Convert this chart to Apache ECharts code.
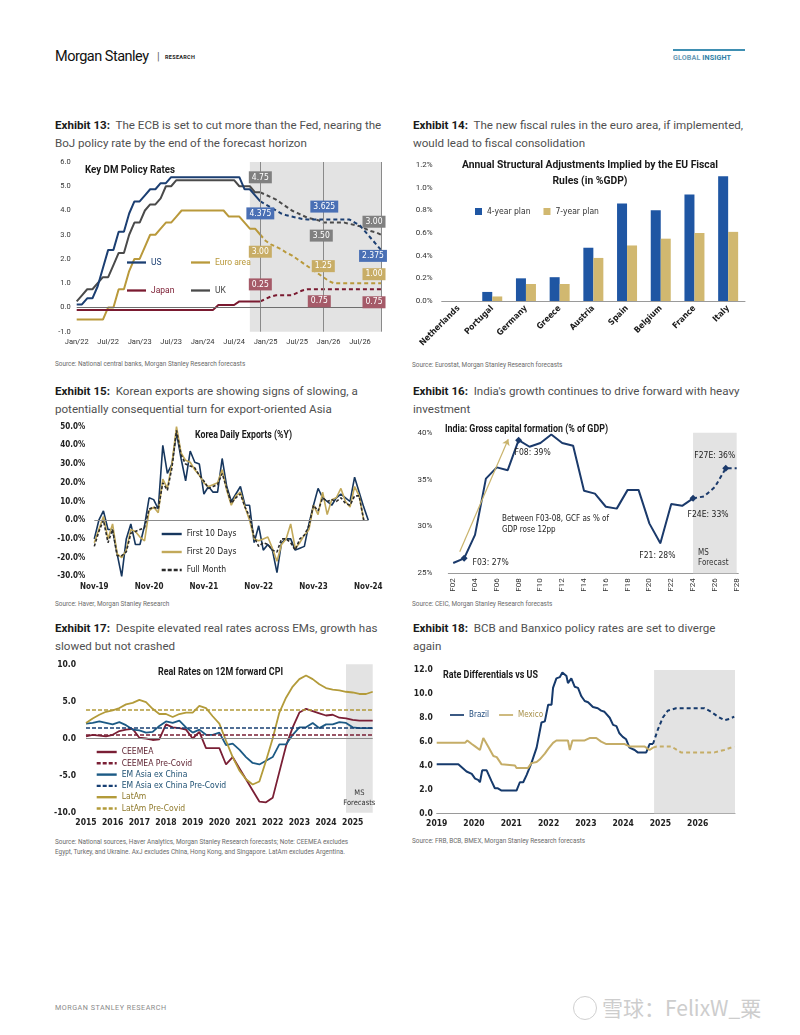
<!DOCTYPE html>
<html><head><meta charset="utf-8">
<script src="https://cdn.jsdelivr.net/npm/echarts@6.0.0/dist/echarts.min.js"></script>
<style>
html,body{margin:0;padding:0;background:#fff;}
body{width:800px;height:1035px;position:relative;overflow:hidden;font-family:Roboto,"Noto Sans",sans-serif;}
.t{position:absolute;white-space:nowrap;}
.ttl{font-size:11.6px;line-height:17.6px;color:#505050;}
.ttl b{color:#1a1a1a;font-weight:700;}
.src{font-size:6.4px;line-height:9.6px;color:#6b6b6b;}
.c{position:absolute;}
</style></head><body>
<div class="t" style="left:55px;top:48px;font-size:14.5px;line-height:18px;color:#111;letter-spacing:-0.5px;">Morgan Stanley</div>
<div class="t" style="left:157px;top:50px;font-size:11px;line-height:14px;color:#666;">|</div>
<div class="t" style="left:165px;top:54px;font-size:5.5px;line-height:7px;color:#222;font-weight:700;letter-spacing:0.3px;">RESEARCH</div>
<div class="t" style="left:673px;top:49px;width:72px;height:2px;background:#3f8fb2;"></div>
<div class="t" style="left:673px;top:53px;font-size:7.2px;line-height:10px;font-weight:700;letter-spacing:0.1px;"><span style="color:#6a9ab5">GLOBAL</span> <span style="color:#2d7ea6">INSIGHT</span></div>

<div class="t ttl" style="left:55px;top:117px;"><b>Exhibit 13:</b>&nbsp; The ECB is set to cut more than the Fed, nearing the<br>BoJ policy rate by the end of the forecast horizon</div>
<div class="t ttl" style="left:413px;top:117px;"><b>Exhibit 14:</b>&nbsp; The new fiscal rules in the euro area, if implemented,<br>would lead to fiscal consolidation</div>
<div class="t ttl" style="left:55px;top:383px;"><b>Exhibit 15:</b>&nbsp; Korean exports are showing signs of slowing, a<br>potentially consequential turn for export-oriented Asia</div>
<div class="t ttl" style="left:413px;top:383px;"><b>Exhibit 16:</b>&nbsp; India's growth continues to drive forward with heavy<br>investment</div>
<div class="t ttl" style="left:55px;top:620px;"><b>Exhibit 17:</b>&nbsp; Despite elevated real rates across EMs, growth has<br>slowed but not crashed</div>
<div class="t ttl" style="left:413px;top:620px;"><b>Exhibit 18:</b>&nbsp; BCB and Banxico policy rates are set to diverge<br>again</div>

<div class="t src" style="left:55px;top:360px;">Source: National central banks, Morgan Stanley Research forecasts</div>
<div class="t src" style="left:412px;top:361px;">Source: Eurostat, Morgan Stanley Research forecasts</div>
<div class="t src" style="left:55px;top:600px;">Source: Haver, Morgan Stanley Research</div>
<div class="t src" style="left:412px;top:600px;">Source: CEIC, Morgan Stanley Research forecasts</div>
<div class="t src" style="left:55px;top:838px;">Source: National sources, Haver Analytics, Morgan Stanley Research forecasts; Note: CEEMEA excludes<br>Egypt, Turkey, and Ukraine. AxJ excludes China, Hong Kong, and Singapore. LatAm excludes Argentina.</div>
<div class="t src" style="left:412px;top:837px;">Source: FRB, BCB, BMEX, Morgan Stanley Research forecasts</div>

<div class="t" style="left:55px;top:1003px;font-size:7.2px;line-height:10px;color:#8a8a8a;letter-spacing:0.5px;">MORGAN STANLEY RESEARCH</div>
<div class="t" style="left:573px;top:996px;width:22px;height:22px;border:1.5px solid #d0d0d0;border-radius:50%;"></div>
<div class="t" style="left:602px;top:993px;font-size:21px;line-height:28px;color:#cdcdcd;font-family:'Noto Sans CJK SC','Noto Sans',sans-serif;">雪球：FelixW_粟</div>

<div id="c13" class="c" style="left:50px;top:155px;width:345px;height:200px;"></div>
<div id="c14" class="c" style="left:405px;top:155px;width:350px;height:200px;"></div>
<div id="c15" class="c" style="left:50px;top:415px;width:345px;height:190px;"></div>
<div id="c16" class="c" style="left:405px;top:415px;width:350px;height:190px;"></div>
<div id="c17" class="c" style="left:50px;top:655px;width:345px;height:180px;"></div>
<div id="c18" class="c" style="left:405px;top:655px;width:350px;height:180px;"></div>

<script>
const BASE = 'Roboto, "Noto Sans", sans-serif';
const NARROW = '"Liberation Sans Narrow", "DejaVu Sans Condensed", Roboto, sans-serif';

// ================= Exhibit 13 data (monthly Jan/22 .. Nov/26) =================
const monthNames = ['Jan','Feb','Mar','Apr','May','Jun','Jul','Aug','Sep','Oct','Nov','Dec'];
const ex13Cats = [];
for (let y = 22; y <= 26; y++) for (let m = 0; m < 12; m++) { if (y === 26 && m === 11) break; ex13Cats.push(monthNames[m] + '/' + y); }
const usRate = [0.125,0.125,0.375,0.375,0.875,1.625,2.375,2.375,3.125,3.125,3.875,4.375,
  4.375,4.625,4.875,4.875,5.125,5.125,5.375,5.375,5.375,5.375,5.375,5.375,
  5.375,5.375,5.375,5.375,5.375,5.375,5.375,5.375,4.875,4.875,4.625,4.375,
  4.25,4.125,4.0,3.875,3.8,3.75,3.7,3.65,3.625,3.625,3.625,3.625,
  3.625,3.625,3.625,3.625,3.625,3.5,3.375,3.125,2.875,2.625,2.375];
const ukRate = [0.25,0.5,0.75,0.75,1.0,1.25,1.25,1.75,2.25,2.25,3.0,3.5,
  3.5,4.0,4.25,4.25,4.5,5.0,5.0,5.25,5.25,5.25,5.25,5.25,
  5.25,5.25,5.25,5.25,5.25,5.25,5.25,5.0,5.0,5.0,4.75,4.75,
  4.65,4.55,4.45,4.3,4.15,4.0,3.9,3.8,3.7,3.65,3.6,3.5,
  3.5,3.5,3.5,3.5,3.45,3.4,3.35,3.25,3.15,3.1,3.0];
const euroRate = [-0.5,-0.5,-0.5,-0.5,-0.5,-0.5,0,0,0.75,0.75,1.5,2.0,
  2.0,2.5,3.0,3.0,3.25,3.5,3.5,3.75,4.0,4.0,4.0,4.0,
  4.0,4.0,4.0,4.0,4.0,3.75,3.75,3.75,3.5,3.25,3.25,3.0,
  2.75,2.6,2.5,2.4,2.25,2.15,2.0,1.85,1.7,1.55,1.4,1.25,
  1.1,1.0,1.0,1.0,1.0,1.0,1.0,1.0,1.0,1.0,1.0];
const japanRate = [-0.1,-0.1,-0.1,-0.1,-0.1,-0.1,-0.1,-0.1,-0.1,-0.1,-0.1,-0.1,
  -0.1,-0.1,-0.1,-0.1,-0.1,-0.1,-0.1,-0.1,-0.1,-0.1,-0.1,-0.1,
  -0.1,-0.1,-0.1,0.1,0.1,0.1,0.1,0.25,0.25,0.25,0.25,0.25,
  0.35,0.45,0.5,0.5,0.5,0.5,0.6,0.7,0.75,0.75,0.75,0.75,
  0.75,0.75,0.75,0.75,0.75,0.75,0.75,0.75,0.75,0.75,0.75];

// ================= Exhibit 14 data =================
const ex14Countries = ['Netherlands','Portugal','Germany','Greece','Austria','Spain','Belgium','France','Italy'];
const plan4yr = [0.0,0.08,0.20,0.21,0.47,0.86,0.80,0.94,1.10];
const plan7yr = [0.0,0.04,0.15,0.15,0.38,0.49,0.55,0.60,0.61];

// ================= Exhibit 15 data (monthly Nov-19 .. Nov-24) =================
const ex15Cats = [];
for (let i = 0; i <= 60; i++) { const mm = (10 + i) % 12; const yy = 19 + Math.floor((10 + i) / 12); ex15Cats.push(monthNames[mm] + '-' + yy); }
const first10 = [-10,0,5,-5,-5,-18,-30,-10,-2,-13,-13,-3,
  12,11,6,40,25,30,47,33,21,37,31,30,
  14,18,15,15,33,18,10,14,18,8,8,-12,
  -3,-16,-13,-16,-28,-12,-10,-10,-16,-15,-14,-2,
  8,17,12,10,8,12,14,12,10,23,15,7,0];
const first20 = [-12,-5,2,-10,-2,-18,-20,-16,-5,-6,-9,-11,
  5,7,4,22,17,30,50,36,32,31,27,24,
  20,18,19,20,27,16,8,13,15,7,0,-10,
  -11,-10,-9,-15,-22,-13,-10,-2,-15,-12,-8,-5,
  8,3,15,3,11,12,17,10,7,18,13,0];
const fullMonth = [-14,-6,0,-12,-5,-19,-19,-17,-7,-6,-5,-4,
  6,7,6,20,16,28,48,35,30,29,28,24,
  21,17,18,19,25,17,9,12,14,7,2,-9,
  -14,-12,-13,-16,-17,-10,-10,-12,-16,-10,-8,-3,
  8,5,12,10,11,10,12,9,8,13,13,0];

// ================= Exhibit 16 data =================
const gcfYears = [2002,2003,2004,2005,2006,2007,2008,2009,2010,2011,2012,2013,2014,2015,2016,2017,2018,2019,2020,2021,2022,2023,2024,2025,2026,2027,2028];
const gcfShare = [26.1,26.6,29.1,35.1,36.3,36.0,39.2,38.5,38.9,39.8,38.9,38.6,33.8,33.5,32.1,31.9,33.9,33.9,30.3,28.2,32.4,32.2,33.0,33.2,34.2,36.2,36.2];
const gcfForecastFrom = 2024;
const gcfTicks = [2002,2004,2006,2008,2010,2012,2014,2016,2018,2020,2022,2024,2026,2028];

// ================= Exhibit 17 data (quarterly 2015Q1 .. 2025Q4) =================
const ex17Cats = [];
for (let y = 2015; y <= 2025; y++) for (let q = 1; q <= 4; q++) ex17Cats.push(y + 'Q' + q);
const ceemea = [0.3,0.5,0.4,0.3, 0.5,1.0,1.2,1.3, 0.1,0.0,-0.2,-0.1, 1.9,1.5,1.4,1.2, 0.0,0.9,-1.3,-1.3,
  -1.3,-3.5,-2.5,-4.0, -5.5,-7.0,-8.5,-8.6, -8.0,-4.5,-1.0,1.5, 3.5,4.0,3.7,3.4, 3.1,3.2,2.8,2.7, 2.5,2.4,2.4,2.4];
const emAsia = [2.0,2.1,2.3,2.1, 1.9,2.2,1.8,1.2, 1.1,0.8,0.9,1.7, 2.3,2.1,2.4,1.5, 0.8,1.2,0.5,0.5,
  0.8,-0.9,-0.7,-1.5, -2.5,-3.3,-3.5,-3.0, -2.5,-0.8,-0.8,0.5, 1.5,1.5,2.1,1.4, 1.9,1.9,2.2,2.1, 1.5,1.4,1.4,1.4];
const latAm = [2.1,2.7,3.2,3.6, 3.8,4.1,4.6,4.8, 5.2,4.9,4.0,3.3, 3.3,2.9,3.3,3.5, 3.5,4.4,4.1,3.0,
  2.0,-0.3,-2.5,-4.3, -5.5,-6.2,-5.8,-3.0, 0.0,3.5,5.5,7.0, 8.0,8.5,8.0,7.3, 6.8,6.6,6.5,6.3, 6.2,6.0,6.0,6.3];
const ceemeaPreCovid = 0.5, emAsiaPreCovid = 1.5, latAmPreCovid = 3.9;

// ================= Exhibit 18 data =================
const brazilYears = [2019.0,2019.58,2019.80,2019.94,2020.03,2020.11,2020.16,2020.22,2020.34,2020.47,2020.56,2020.63,2020.74,
  2021.14,2021.23,2021.32,2021.41,2021.54,2021.68,2021.81,2021.90,2021.99,2022.08,2022.12,2022.21,2022.30,2022.37,
  2022.48,2022.52,2022.61,2022.70,2022.79,2022.88,2022.97,2023.06,2023.19,2023.32,2023.41,2023.50,2023.64,2023.73,
  2023.82,2023.90,2023.99,2024.08,2024.17,2024.31,2024.39,2024.62,2024.71,2024.80];
const brazilDiff = [4.1,4.1,3.5,3.3,2.9,2.8,2.6,3.6,3.6,2.7,2.1,2.1,1.9,
  1.9,2.6,2.6,3.2,4.2,5.5,7.6,7.7,9.1,9.1,10.5,11.3,11.4,11.8,
  11.5,10.9,11.3,10.6,10.5,9.8,9.4,9.3,8.9,8.8,8.6,8.5,8.0,7.4,
  7.3,6.7,6.4,6.2,5.5,5.3,5.1,5.1,5.8,5.8];
const brazilFcYears = [2024.80,2024.93,2025.06,2025.20,2025.42,2026.18,2026.36,2026.54,2026.71,2026.85,2026.98];
const brazilFcDiff = [5.8,7.0,8.0,8.6,8.8,8.8,8.5,8.1,7.8,7.9,8.1];
const mexicoYears = [2019.0,2019.76,2019.82,2019.94,2020.03,2020.16,2020.25,2020.38,2020.52,2020.61,2020.74,
  2021.10,2021.14,2021.45,2021.54,2021.68,2021.76,2021.90,2021.99,2022.12,2022.21,2022.52,2022.57,2022.64,
  2022.97,2023.10,2023.28,2023.41,2023.55,2024.04,2024.17,2024.57,2024.71,2024.80];
const mexicoDiff = [5.9,5.9,6.1,5.8,5.6,5.3,6.3,5.6,4.8,4.7,4.1,
  4.0,3.8,3.8,4.2,4.3,4.5,5.0,5.4,5.9,6.1,6.1,5.3,6.1,
  6.1,6.3,6.3,6.0,5.8,5.8,5.6,5.6,5.3,5.5];
const mexicoFcYears = [2024.80,2024.90,2025.29,2025.55,2026.45,2026.71,2026.98];
const mexicoFcDiff = [5.5,5.6,5.6,5.1,5.1,5.3,5.6];
const ex18ForecastStart = 2024.83;

// ---------------- helpers ----------------
const pairs = (xs, ys) => xs.map((x, i) => [x, ys[i]]);
const axisNone = { axisLine:{show:false}, axisTick:{show:false}, splitLine:{show:false} };
const SOLID = 'path://M0,0H20V2.4H0Z';
const DASH = 'path://M0,0H4V2.4H0Z M6,0H10V2.4H6Z M12,0H16V2.4H12Z M18,0H20V2.4H18Z';
const measureCtx = document.createElement('canvas').getContext('2d');
const TITLE_FONT = 'bold 10.5px Roboto';
// condensed bold chart title drawn as graphic text, squeezed to the width it has in the reference
function condTitle(lines, x, y, targetW, align) {
  measureCtx.font = TITLE_FONT;
  const w = Math.max(...lines.map(l => measureCtx.measureText(l).width));
  const sx = targetW / w;
  return lines.map((l, i) => ({type:'text', x, y: y + i * 16, scaleX: sx, silent:true,
    style:{text:l, font:TITLE_FONT, fill:'#1a1a1a', align: align || 'left', verticalAlign:'middle'}}));
}

// ---------------- Exhibit 13 ----------------
(function(){
  const chart = echarts.init(document.getElementById('c13'));
  const rates = {'UK': ukRate, 'Euro area': euroRate, 'Japan': japanRate, 'US': usRate};
  const lineCol = {'US':'#1c3f72','UK':'#4a4a4a','Euro area':'#b9993b','Japan':'#7a1a30'};
  const boxCol = {'US':'#4a70b5','UK':'#808080','Euro area':'#c8ad66','Japan':'#a55a68'};
  const split = ex13Cats.indexOf('Dec/24');
  const series = [{
    type:'line', data:[], z:1, silent:true,
    markArea:{silent:true, itemStyle:{color:'#e3e3e3'}, data:[[{xAxis:'Oct/24'},{xAxis:'Nov/26'}]]},
    markLine:{silent:true, symbol:'none', label:{show:false}, lineStyle:{color:'#8a8a8a', width:1, type:'solid'},
      data:[{xAxis:'Dec/24'},{xAxis:'Dec/25'},{xAxis:'Nov/26'},{yAxis:0, lineStyle:{color:'#6e6e6e'}}]}
  }];
  Object.keys(rates).forEach(name => {
    const arr = rates[name];
    series.push({name, type:'line', symbol:'none', z:3, data: arr.map((v,i)=> i<=split ? v : null),
      lineStyle:{width:2, color:lineCol[name]}, itemStyle:{color:lineCol[name]}});
    series.push({name: name + ' forecast', type:'line', symbol:'none', z:3, data: arr.map((v,i)=> i>=split ? v : null),
      lineStyle:{width:2, type:[4,3], color:lineCol[name]}, itemStyle:{color:lineCol[name]}});
  });
  const fmt = v => (Math.abs(v*100 - Math.round(v*100)) < 1e-9 ? v.toFixed(2) : v.toFixed(3));
  const lab = [['UK','Dec/24',0,-15],['UK','Dec/25',-2,13],['UK','Nov/26',-7,-13],
               ['US','Dec/24',0,12],['US','Dec/25',1,-13],['US','Nov/26',-8,6],
               ['Euro area','Dec/24',0,17],['Euro area','Dec/25',0,-11],['Euro area','Nov/26',-7,-9],
               ['Japan','Dec/24',0,-17],['Japan','Dec/25',-4,12],['Japan','Nov/26',-7,13]];
  series.push({type:'line', data:[], z:10, silent:true, markPoint:{silent:true, symbol:'circle', symbolSize:1, itemStyle:{color:'rgba(0,0,0,0)'},
    data: lab.map(([n,c,dx,dy]) => { const v = rates[n][ex13Cats.indexOf(c)]; return {coord:[c, v],
      label:{show:true, position:'inside', formatter: fmt(v), offset:[dx,dy], backgroundColor:boxCol[n], color:'#fff',
        fontSize:8.5, fontFamily:NARROW, padding:[2,3,1,3]}}; })}});
  const leg = (name, left, top) => ({data:[{name, icon:SOLID, textStyle:{color:lineCol[name]}}], left, top, padding:0, itemWidth:19, itemHeight:2.6,
    textStyle:{fontSize:8.5, fontFamily:BASE}, selectedMode:false});
  chart.setOption({
    animation:false, textStyle:{fontFamily:BASE},
    graphic: condTitle(['Key DM Policy Rates'], 35, 15, 90),
    legend:[leg('US',77,103), leg('Euro area',141,103), leg('Japan',77,131), leg('UK',141,131)],
    grid:{left:26.7, right:14, top:7, bottom:23.3},
    xAxis:{type:'category', data:ex13Cats, boundaryGap:false, ...axisNone, axisLabel:{interval:5, fontSize:7.5, color:'#333', margin:6}},
    yAxis:{type:'value', min:-1, max:6, interval:1, ...axisNone, axisLabel:{formatter:v=>v.toFixed(1), fontSize:7.5, color:'#333', margin:6}},
    series
  });
})();

// ---------------- Exhibit 14 ----------------
(function(){
  const chart = echarts.init(document.getElementById('c14'));
  chart.setOption({
    animation:false, textStyle:{fontFamily:BASE},
    graphic: condTitle(['Annual Structural Adjustments Implied by the EU Fiscal','Rules (in %GDP)'], 185, 10, 256, 'center'),
    legend:{left:70, top:52, padding:0, icon:'rect', itemWidth:7, itemHeight:7, itemGap:13, selectedMode:false,
      textStyle:{fontSize:8.5, color:'#333', fontFamily:NARROW}},
    grid:{left:36.7, right:10, top:10, bottom:54},
    xAxis:{type:'category', data:ex14Countries, axisLine:{lineStyle:{color:'#9a9a9a'}}, axisTick:{show:false},
      axisLabel:{interval:0, rotate:45, fontSize:8.5, color:'#1a1a1a', fontWeight:'bold', fontFamily:NARROW, margin:6}},
    yAxis:{type:'value', min:0, max:1.2, interval:0.2, ...axisNone, axisLabel:{formatter:v=>v.toFixed(1)+'%', fontSize:8, color:'#333', margin:9}},
    series:[
      {name:'4-year plan', type:'bar', data:plan4yr, barWidth:10, barGap:'0%', itemStyle:{color:'#1f56a3'}},
      {name:'7-year plan', type:'bar', data:plan7yr, barWidth:10, itemStyle:{color:'#d1b870'}}
    ]
  });
})();

// ---------------- Exhibit 15 ----------------
(function(){
  const chart = echarts.init(document.getElementById('c15'));
  chart.setOption({
    animation:false, textStyle:{fontFamily:BASE},
    graphic: condTitle(['Korea Daily Exports (%Y)'], 145, 20, 97),
    legend:{orient:'vertical', left:111.7, top:114, padding:0, itemWidth:20, itemHeight:2.4, itemGap:8, selectedMode:false,
      textStyle:{fontSize:8.5, lineHeight:10, color:'#222', fontFamily:NARROW},
      data:[{name:'First 10 Days', icon:SOLID}, {name:'First 20 Days', icon:SOLID}, {name:'Full Month', icon:DASH}]},
    grid:{left:44.3, right:26.7, top:11.7, bottom:28.7},
    xAxis:{type:'category', data:ex15Cats, boundaryGap:false, ...axisNone, axisLabel:{interval:11, fontSize:8, color:'#222', fontWeight:'bold', fontFamily:NARROW, margin:7}},
    yAxis:{type:'value', min:-30, max:50, interval:10, ...axisNone, axisLabel:{formatter:v=>v.toFixed(1)+'%', fontSize:8, color:'#222', fontWeight:'bold', fontFamily:NARROW, margin:9}},
    series:[
      {name:'First 10 Days', type:'line', data:first10, symbol:'none', lineStyle:{width:1.6, color:'#17375e'}, itemStyle:{color:'#17375e'},
        markLine:{silent:true, symbol:'none', label:{show:false}, lineStyle:{color:'#8c8c8c', width:1, type:'solid'}, data:[{yAxis:0}]}},
      {name:'First 20 Days', type:'line', data:first20, symbol:'none', lineStyle:{width:1.6, color:'#c2a95a'}, itemStyle:{color:'#c2a95a'}},
      {name:'Full Month', type:'line', data:fullMonth, symbol:'none', lineStyle:{width:1.6, type:[3,2], color:'#2b2b2b'}, itemStyle:{color:'#2b2b2b'}}
    ]
  });
})();

// ---------------- Exhibit 16 ----------------
(function(){
  const chart = echarts.init(document.getElementById('c16'));
  const navy = '#1b3a6b';
  const marked = {2003:{pos:'right', off:[0,4], txt:'F03'}, 2008:{pos:'bottom', off:[14,0], txt:'F08'},
                  2021:{pos:'bottom', off:[-3,2], txt:'F21', dot:true}, 2024:{pos:'bottom', off:[15,3], txt:'F24E'},
                  2027:{pos:'top', off:[-11,0], txt:'F27E'}};
  const item = (y, v) => {
    const m = marked[y];
    if (!m) return [y, v];
    return {value:[y, v], symbol: m.dot ? 'circle' : 'diamond', symbolSize: m.dot ? 1 : 7,
      label:{show:true, position:m.pos, distance:5, offset:m.off, formatter: m.txt + ': ' + Math.round(v) + '%', fontSize:8.5, color:'#222', fontFamily:NARROW}};
  };
  const hist = [], fc = [];
  gcfYears.forEach((y,i) => {
    if (y <= gcfForecastFrom) hist.push(item(y, gcfShare[i]));
    if (y >= gcfForecastFrom) fc.push(y === gcfForecastFrom ? [y, gcfShare[i]] : item(y, gcfShare[i]));
  });
  chart.setOption({
    animation:false, textStyle:{fontFamily:BASE},
    graphic: condTitle(['India: Gross capital formation (% of GDP)'], 40, 14, 163).concat([
      {type:'text', left:97, top:98, silent:true, style:{text:'Between F03-08, GCF as % of\nGDP rose 12pp', fontSize:8, lineHeight:11, fill:'#222', fontFamily:NARROW}}]),
    grid:{left:43.3, right:16.7, top:17.7, bottom:31.7},
    xAxis:{type:'value', min:2001.55, max:2028.15, axisLine:{lineStyle:{color:'#9a9a9a'}}, axisTick:{show:false}, splitLine:{show:false},
      axisLabel:{customValues:gcfTicks, rotate:90, fontSize:8, color:'#333', margin:5, formatter:v=>'F'+String(Math.round(v)%100).padStart(2,'0')}},
    yAxis:{type:'value', min:25, max:40, interval:5, ...axisNone, axisLabel:{formatter:v=>v+'%', fontSize:8, color:'#333', margin:16}},
    series:[
      {type:'line', data:[], silent:true, z:1,
        markArea:{silent:true, itemStyle:{color:'#e3e3e3'}, label:{show:true, position:'insideBottomLeft', distance:5, formatter:'MS\nForecast', fontSize:8, lineHeight:10, color:'#333', fontFamily:NARROW},
          data:[[{xAxis:gcfForecastFrom},{xAxis:2028}]]},
        markLine:{silent:true, symbol:['none','arrow'], symbolSize:6, label:{show:false}, lineStyle:{color:'#c9b36c', width:1.2, type:'solid'},
          data:[[{coord:[2002.6, 27.3]},{coord:[2007.05, 39.3]}]]}},
      {name:'GCF', type:'line', data:hist, symbol:'none', lineStyle:{width:2, color:navy}, itemStyle:{color:navy}, z:3},
      {name:'GCF forecast', type:'line', data:fc, symbol:'none', lineStyle:{width:2, type:[4,3], color:navy}, itemStyle:{color:navy}, z:3}
    ]
  });
})();

// ---------------- Exhibit 17 ----------------
(function(){
  const chart = echarts.init(document.getElementById('c17'));
  const cC = '#7a1f35', cA = '#1c5a85', cL = '#b39b3a';
  const pre = (name, val, col) => ({name, type:'line', data:[], symbol:'none', lineStyle:{width:1.6, type:[4,2], color:col}, itemStyle:{color:col},
    markLine:{silent:true, symbol:'none', label:{show:false}, lineStyle:{width:1.6, type:[4,2], color:col}, data:[{yAxis:val}]}});
  const ln = (name, data, col) => ({name, type:'line', data, symbol:'none', lineStyle:{width:1.8, color:col}, itemStyle:{color:col}, z:3});
  const legItem = (name, col, icon) => ({name, icon, textStyle:{color:col}});
  chart.setOption({
    animation:false, textStyle:{fontFamily:BASE},
    graphic: condTitle(['Real Rates on 12M forward CPI'], 108, 17, 125),
    legend:{orient:'vertical', left:46.7, top:92, padding:0, itemWidth:20, itemHeight:2.4, itemGap:1.3, selectedMode:false,
      textStyle:{fontSize:8.5, lineHeight:10, fontFamily:NARROW},
      data:[legItem('CEEMEA','#5a1d2c',SOLID), legItem('CEEMEA Pre-Covid','#5a1d2c',DASH), legItem('EM Asia ex China','#1c4f72',SOLID),
            legItem('EM Asia ex China Pre-Covid','#1c4f72',DASH), legItem('LatAm','#8f7a2c',SOLID), legItem('LatAm Pre-Covid','#8f7a2c',DASH)]},
    grid:{left:36, right:22.3, top:9.3, bottom:22.3},
    xAxis:{type:'category', data:ex17Cats, boundaryGap:false, ...axisNone,
      axisLabel:{interval:(i)=> i % 4 === 0, formatter:v=>v.slice(0,4), fontSize:8.5, color:'#222', fontWeight:'bold', fontFamily:NARROW, margin:6}},
    yAxis:{type:'value', min:-10, max:10, interval:5, ...axisNone, axisLabel:{formatter:v=>v.toFixed(1), fontSize:8.5, color:'#222', fontWeight:'bold', fontFamily:NARROW, margin:10}},
    series:[
      {type:'line', data:[], silent:true, z:1,
        markArea:{silent:true, itemStyle:{color:'#e3e3e3'}, label:{show:true, position:'insideBottom', distance:5, formatter:'MS\nForecasts', fontSize:7.5, lineHeight:9.5, color:'#333', fontFamily:NARROW},
          data:[[{xAxis:'2024Q4'},{xAxis:'2025Q4'}]]},
        markLine:{silent:true, symbol:'none', label:{show:false}, lineStyle:{color:'#8c8c8c', width:1, type:'solid'}, data:[{yAxis:0}]}},
      ln('CEEMEA', ceemea, cC), pre('CEEMEA Pre-Covid', ceemeaPreCovid, cC),
      ln('EM Asia ex China', emAsia, cA), pre('EM Asia ex China Pre-Covid', emAsiaPreCovid, '#173f73'),
      ln('LatAm', latAm, cL), pre('LatAm Pre-Covid', latAmPreCovid, cL)
    ]
  });
})();

// ---------------- Exhibit 18 ----------------
(function(){
  const chart = echarts.init(document.getElementById('c18'));
  const cB = '#163a6c', cM = '#c5ad67';
  chart.setOption({
    animation:false, textStyle:{fontFamily:BASE},
    graphic: condTitle(['Rate Differentials vs US'], 38, 20, 95),
    legend:{left:45, top:55, padding:0, itemWidth:14, itemHeight:2.4, itemGap:10, selectedMode:false, textStyle:{fontSize:8, lineHeight:10, fontFamily:NARROW},
      data:[{name:'Brazil', icon:SOLID, textStyle:{color:'#1f4a7c'}}, {name:'Mexico', icon:SOLID, textStyle:{color:'#a89048'}}]},
    grid:{left:31.7, right:20, top:15, bottom:21.7},
    xAxis:{type:'value', min:2019, max:2027, interval:1, axisLine:{lineStyle:{color:'#9a9a9a'}}, axisTick:{show:false}, splitLine:{show:false},
      axisLabel:{formatter:v=> v === 2027 ? '' : String(v), fontSize:8.5, color:'#222', fontWeight:'bold', fontFamily:NARROW, margin:6}},
    yAxis:{type:'value', min:0, max:12, interval:2, ...axisNone, axisLabel:{formatter:v=>v.toFixed(1), fontSize:8.5, color:'#222', fontWeight:'bold', fontFamily:NARROW, margin:4}},
    series:[
      {type:'line', data:[], silent:true, z:1, markArea:{silent:true, itemStyle:{color:'#e3e3e3'}, data:[[{xAxis:ex18ForecastStart},{xAxis:2027}]]}},
      {name:'Brazil', type:'line', data:pairs(brazilYears, brazilDiff), symbol:'none', lineStyle:{width:2, color:cB}, itemStyle:{color:cB}, z:3},
      {name:'Brazil forecast', type:'line', data:pairs(brazilFcYears, brazilFcDiff), symbol:'none', lineStyle:{width:2, type:[4,3], color:cB}, itemStyle:{color:cB}, z:3},
      {name:'Mexico', type:'line', data:pairs(mexicoYears, mexicoDiff), symbol:'none', lineStyle:{width:2, color:cM}, itemStyle:{color:cM}, z:3},
      {name:'Mexico forecast', type:'line', data:pairs(mexicoFcYears, mexicoFcDiff), symbol:'none', lineStyle:{width:2, type:[4,3], color:cM}, itemStyle:{color:cM}, z:3}
    ]
  });
})();
</script>
</body></html>
